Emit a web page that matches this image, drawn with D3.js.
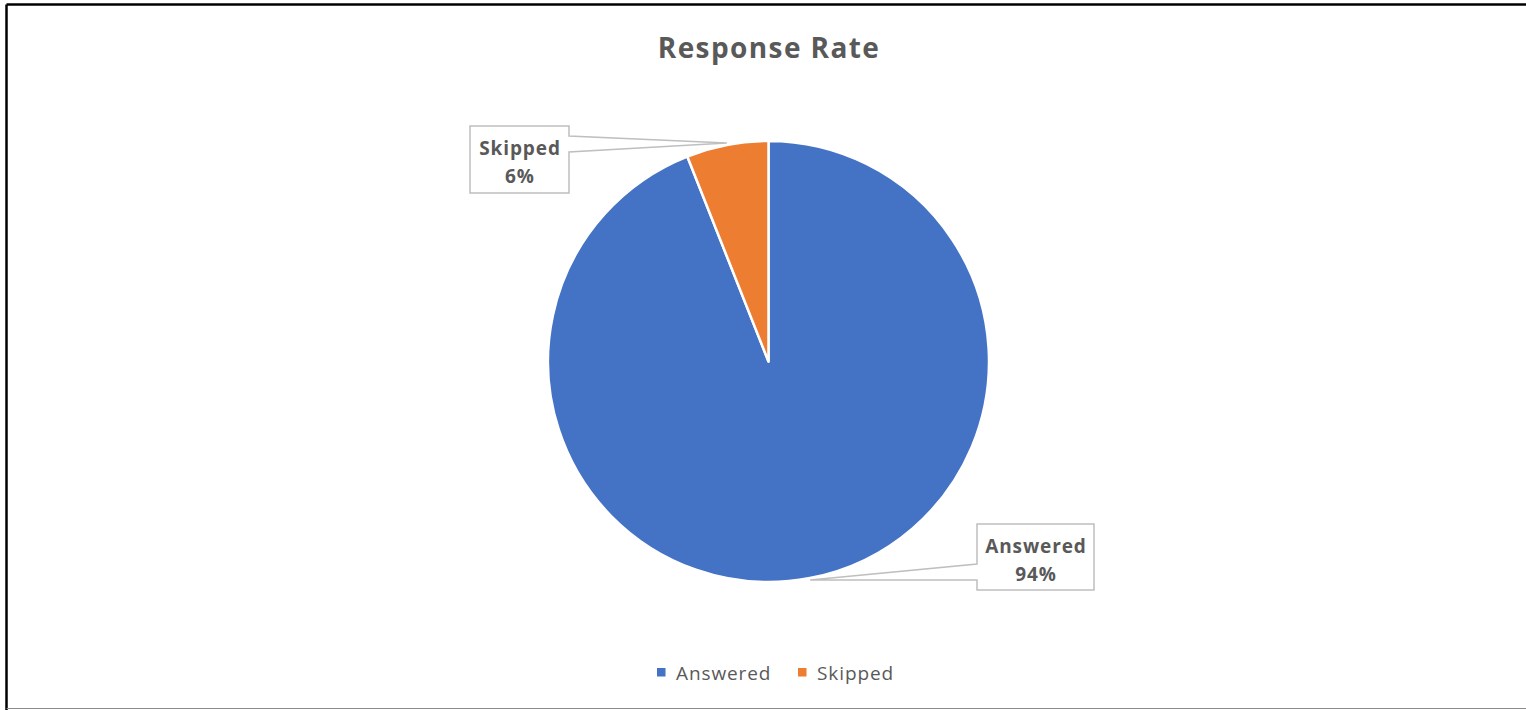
<!DOCTYPE html>
<html>
<head>
<meta charset="utf-8">
<script src="https://cdn.jsdelivr.net/npm/d3@7"></script>
<style>
  html, body { margin: 0; padding: 0; background: #fff; }
  svg { display: block; }
  text { font-family: "Open Sans", "Noto Sans", sans-serif; fill: #595959; }
</style>
</head>
<body>
<svg id="chart" width="1526" height="710"></svg>
<script>
// Survey response breakdown
const categories = ["Answered", "Skipped"];
const values = [94, 6];
const colors = ["#4472C4", "#ED7D31"];
const title = "Response Rate";

const W = 1526, H = 710;
const svg = d3.select("#chart");

// Frame
svg.append("line").attr("x1", 6.5).attr("y1", 4.5).attr("x2", W).attr("y2", 4.5)
  .attr("stroke", "#000").attr("stroke-width", 2.5);
svg.append("line").attr("x1", 6.5).attr("y1", 4.5).attr("x2", 6.5).attr("y2", H)
  .attr("stroke", "#000").attr("stroke-width", 2.5);
svg.append("line").attr("x1", 6.5).attr("y1", 708.5).attr("x2", W).attr("y2", 708.5)
  .attr("stroke", "#8c8c8c").attr("stroke-width", 1.2);

// Title
svg.append("text").attr("x", 769).attr("y", 58).attr("text-anchor", "middle")
  .attr("font-size", 28).attr("font-weight", 700).attr("letter-spacing", 1.4).text(title);

// Pie
const cx = 768.5, cy = 361.5, R = 220.5;
const data = categories.map((c, i) => ({ name: c, value: values[i], color: colors[i] }));
const pie = d3.pie().sort(null).value(d => d.value).startAngle(0).endAngle(2 * Math.PI);
const arcs = pie(data);
const arc = d3.arc().innerRadius(0).outerRadius(R);
const total = d3.sum(values);

const g = svg.append("g").attr("transform", `translate(${cx},${cy})`);
g.selectAll("path").data(arcs).join("path")
  .attr("d", arc)
  .attr("fill", d => d.data.color)
  .attr("stroke", "#fff").attr("stroke-width", 2.5).attr("stroke-linejoin", "round");

// Callout data labels
const labelBoxes = {
  Answered: { x: 977, y: 524, w: 117, h: 66 },
  Skipped: { x: 470, y: 126, w: 99, h: 67 }
};
const fmt = d3.format(".0%");

arcs.forEach(a => {
  const box = labelBoxes[a.data.name];
  const mid = (a.startAngle + a.endAngle) / 2;
  const tip = [cx + (R + 2) * Math.sin(mid), cy - (R + 2) * Math.cos(mid)];
  const half = 8;
  const by = Math.max(box.y + 18, Math.min(box.y + box.h - 18, tip[1]));
  const x0 = box.x, x1 = box.x + box.w, y0 = box.y, y1 = box.y + box.h;
  let p;
  if (tip[0] > x1) {
    p = `M${x0},${y0}H${x1}V${by - half}L${tip[0]},${tip[1]}L${x1},${by + half}V${y1}H${x0}Z`;
  } else {
    p = `M${x0},${y0}H${x1}V${y1}H${x0}V${by + half}L${tip[0]},${tip[1]}L${x0},${by - half}Z`;
  }
  svg.append("path").attr("d", p).attr("fill", "#fff")
    .attr("stroke", "#BFBFBF").attr("stroke-width", 1.5).attr("stroke-linejoin", "miter");
  const tx = box.x + box.w / 2 + 0.5;
  const t = svg.append("text").attr("text-anchor", "middle")
    .attr("font-size", 19).attr("font-weight", 700).attr("letter-spacing", 0.9);
  t.append("tspan").attr("x", tx).attr("y", box.y + 29).text(a.data.name);
  t.append("tspan").attr("x", tx).attr("y", box.y + 57).text(fmt(a.data.value / total));
});

// Legend
const legend = svg.append("g");
const legendItems = [{ x: 657 }, { x: 798 }];
categories.forEach((c, i) => {
  const lx = legendItems[i].x;
  legend.append("rect").attr("x", lx).attr("y", 668).attr("width", 8.5).attr("height", 8.5)
    .attr("fill", colors[i]);
  legend.append("text").attr("x", lx + 19).attr("y", 680).attr("font-size", 19)
    .attr("letter-spacing", 0.9).text(c);
});
</script>
</body>
</html>
